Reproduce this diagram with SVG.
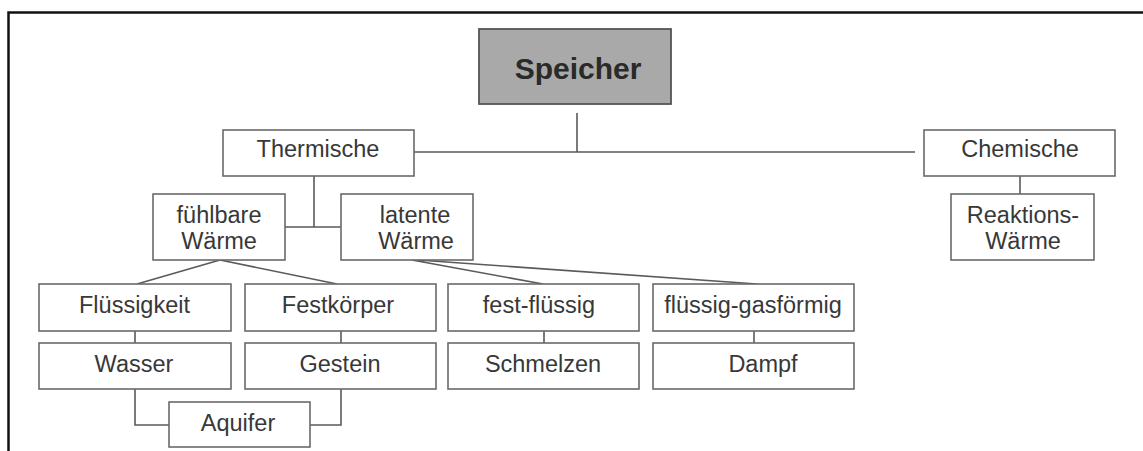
<svg xmlns="http://www.w3.org/2000/svg" width="1143" height="451" viewBox="0 0 1143 451">
<style>
.box{fill:#fff;stroke:#6a6a6a;stroke-width:1.6}
.root{fill:#a9a9a9;stroke:#555;stroke-width:1.8}
text{font-family:"Liberation Sans",Arial,sans-serif;font-size:23.5px;fill:#383838;text-anchor:middle}
.big{font-size:30px;font-weight:bold;fill:#2a2a2a}
.con{fill:none;stroke:#5a5a5a;stroke-width:1.6}
</style>
<rect width="1143" height="451" fill="#fff"/>
<path d="M8.5 451 V12.5 H1143" fill="none" stroke="#111" stroke-width="2.5"/>
<g id="connectors">
<path class="con" d="M577 113 V152 M413 152 H915"/>
<path class="con" d="M314 176 V227 M285 227 H341"/>
<path class="con" d="M1020 176 V194"/>
<path class="con" d="M220 260 L137 284 M220 260 L337 284"/>
<path class="con" d="M412 260 L543 284 M418 260 L757 284"/>
<path class="con" d="M135 331 V343 M341 331 V343 M544 331 V343 M754 331 V343"/>
<path class="con" d="M135 389 V425 H169 M341 389 V425 H310"/>
</g>
<g id="speicher"><rect class="root" x="479" y="29" width="192" height="75"/><text class="big" x="578" y="79">Speicher</text></g>
<g id="thermische"><rect class="box" x="223" y="130" width="191" height="46"/><text x="318" y="157">Thermische</text></g>
<g id="chemische"><rect class="box" x="924" y="130" width="191" height="46"/><text x="1020" y="157">Chemische</text></g>
<g id="reaktionswaerme"><rect class="box" x="951" y="194" width="143" height="66"/><text x="1023" y="223">Reaktions-</text><text x="1023" y="249">Wärme</text></g>
<g id="fuehlbare"><rect class="box" x="153" y="194" width="132" height="66"/><text x="219" y="223">fühlbare</text><text x="219" y="249">Wärme</text></g>
<g id="latente"><rect class="box" x="341" y="194" width="132" height="66"/><text x="415" y="223">latente</text><text x="416" y="249">Wärme</text></g>
<g id="fluessigkeit"><rect class="box" x="39" y="284" width="192" height="47"/><text x="134.5" y="313">Flüssigkeit</text></g>
<g id="festkoerper"><rect class="box" x="245" y="284" width="191" height="47"/><text x="338" y="313">Festkörper</text></g>
<g id="fest-fluessig"><rect class="box" x="448" y="284" width="191" height="47"/><text x="539" y="313">fest-flüssig</text></g>
<g id="fluessig-gasfoermig"><rect class="box" x="653" y="284" width="201" height="47"/><text x="753" y="313">flüssig-gasförmig</text></g>
<g id="wasser"><rect class="box" x="39" y="343" width="192" height="46"/><text x="134" y="372">Wasser</text></g>
<g id="gestein"><rect class="box" x="245" y="343" width="191" height="46"/><text x="340" y="372">Gestein</text></g>
<g id="schmelzen"><rect class="box" x="448" y="343" width="191" height="46"/><text x="543" y="372">Schmelzen</text></g>
<g id="dampf"><rect class="box" x="653" y="343" width="201" height="46"/><text x="763" y="372">Dampf</text></g>
<g id="aquifer"><rect class="box" x="169" y="402" width="141" height="45"/><text x="238" y="431">Aquifer</text></g>
</svg>
